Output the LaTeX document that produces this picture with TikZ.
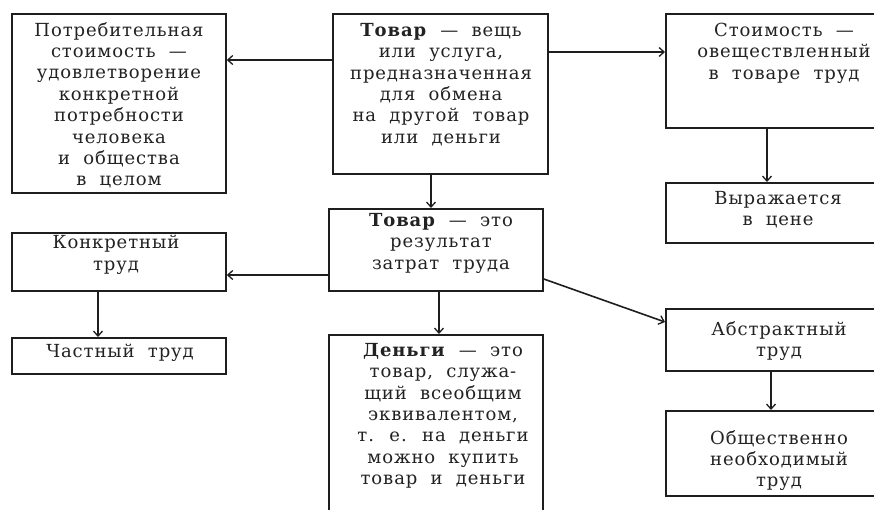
\documentclass[tikz,border=0pt]{standalone}
\usepackage{fontspec}
\setmainfont{DejaVu Serif}[LetterSpace=5, WordSpace=2]
\usetikzlibrary{arrows.meta}
\definecolor{ink}{HTML}{1E1E1E}
\definecolor{txtc}{HTML}{222222}
\tikzset{
  box/.style={draw=ink, line width=1.8pt, rectangle, inner sep=0pt, anchor=north west},
  txt/.style={align=center, inner sep=0pt, anchor=north, text=txtc,
     font=\fontsize{18}{21.4}\selectfont},
  arr/.style={draw=ink, line width=1.6pt, -{Straight Barb[length=5pt,width=9pt,line width=1.3pt]}}
}
\begin{document}
\begin{tikzpicture}[x=1pt,y=-1pt]
\useasboundingbox[fill=white] (0,0) rectangle (874,509);
\clip (0,0) rectangle (874,509);
% boxes
\node[box, minimum width=214pt, minimum height=179pt] (b1) at (11,13) {};
\node[box, minimum width=215pt, minimum height=160pt] (b2) at (332,13) {};
\node[box, minimum width=228pt, minimum height=114pt] (b3) at (665,13) {};
\node[box, minimum width=228pt, minimum height=60pt] (b4) at (665,182) {};
\node[box, minimum width=214pt, minimum height=82pt] (b5) at (328,208) {};
\node[box, minimum width=214pt, minimum height=58pt] (b6) at (11,232) {};
\node[box, minimum width=214pt, minimum height=36pt] (b7) at (11,337) {};
\node[box, minimum width=214pt, minimum height=226pt] (b8) at (328,334) {};
\node[box, minimum width=228pt, minimum height=62pt] (b9) at (665,308) {};
\node[box, minimum width=228pt, minimum height=85pt] (b10) at (665,410) {};
% texts
\node[txt] (t1) at (119,22) {Потребительная\\стоимость —\\удовлетворение\\конкретной\\потребности\\человека\\и общества\\в целом};
\node[txt] (t2) at (441,23) {\textbf{Товар} — вещь\\или услуга,\\предназначенная\\для обмена\\на другой товар\\или деньги};
\node[txt] (t3) at (784,23) {Стоимость —\\овеществленный\\в товаре труд};
\node[txt] (t4) at (778,191) {Выражается\\в цене};
\node[txt] (t5) at (441,213) {\textbf{Товар} — это\\результат\\затрат труда};
\node[txt] (t6) at (116,235) {Конкретный\\труд};
\node[txt] (t7) at (120,344) {Частный труд};
\node[txt] (t8) at (443,343) {\textbf{Деньги} — это\\товар, служа-\\щий всеобщим\\эквивалентом,\\т. е. на деньги\\можно купить\\товар и деньги};
\node[txt] (t9) at (779,321) {Абстрактный\\труд};
\node[txt] (t10) at (779,430) {Общественно\\необходимый\\труд};
% connectors
\draw[arr] (b2.west |- 0,60) -- (b1.east |- 0,60);
\draw[arr] (b2.east |- 0,52) -- (b3.west |- 0,52);
\draw[arr] (b3.south -| 767,0) -- (b4.north -| 767,0);
\draw[arr] (b2.south -| 431,0) -- (b5.north -| 431,0);
\draw[arr] (b5.west |- 0,275) -- (b6.east |- 0,275);
\draw[arr] (b6.south -| 98,0) -- (b7.north -| 98,0);
\draw[arr] (b5.south -| 439,0) -- (b8.north -| 439,0);
\draw[arr] (b5.east |- 0,279) -- (b9.west |- 0,322);
\draw[arr] (b9.south -| 771,0) -- (b10.north -| 771,0);
\end{tikzpicture}
\end{document}
